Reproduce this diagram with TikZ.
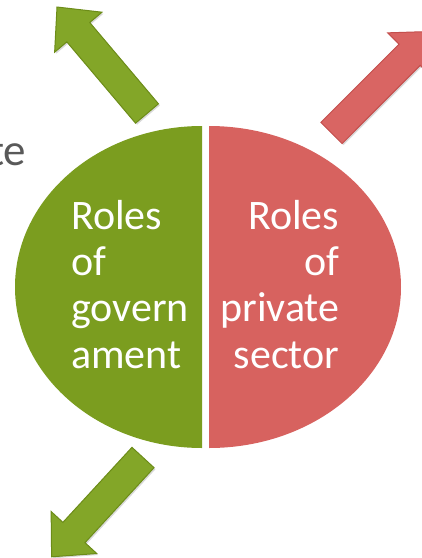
\documentclass[tikz,border=0pt]{standalone}
\usepackage{fontspec}
\setmainfont{Carlito}
\usetikzlibrary{calc,shadows}
\definecolor{govgreen}{HTML}{7B9D1F}
\definecolor{privred}{HTML}{D7625F}
\definecolor{garrowfill}{HTML}{83A628}
\definecolor{garrowline}{HTML}{6C8C18}
\definecolor{rarrowfill}{HTML}{D96563}
\definecolor{rarrowline}{HTML}{C44F4D}
\definecolor{slidegray}{HTML}{595959}
\newcommand\blockarrow[3]{%
  \coordinate (bh) at ($(#2)!33pt!(#1)$);
  \filldraw[#3] ($(#1)!15pt!90:(#2)$) -- ($(bh)!15pt!90:(#2)$) -- ($(bh)!31pt!90:(#2)$) -- (#2)
    -- ($(bh)!31pt!-90:(#2)$) -- ($(bh)!15pt!-90:(#2)$) -- ($(#1)!15pt!-90:(#2)$) -- cycle;}
\tikzset{
  garrow/.style={fill=garrowfill, draw=garrowline, line width=1pt, line join=miter,
    drop shadow={opacity=0.3, shadow xshift=1.5pt, shadow yshift=-1.5pt}},
  rarrow/.style={fill=rarrowfill, draw=rarrowline, line width=1pt, line join=miter,
    drop shadow={opacity=0.3, shadow xshift=1.5pt, shadow yshift=-1.5pt}},
  rolestext/.style={inner sep=0pt, text=white, font=\fontsize{42}{46}\selectfont},
}
\begin{document}
\begin{tikzpicture}[x=1pt,y=-1pt]
\useasboundingbox (0,0) rectangle (422,558);
\clip (0,0) rectangle (422,558);
% cut-off slide text
\node[inner sep=0pt, anchor=base east, text=slidegray, font=\fontsize{45}{50}\selectfont] (te) at (26.5,165) {te};
% halves
\fill[govgreen] (202,126) arc[start angle=90, end angle=270, x radius=187pt, y radius=161pt] -- cycle;
\fill[privred] (209,126) arc[start angle=90, end angle=-90, x radius=192pt, y radius=161pt] -- cycle;
% arrows
\coordinate (gaS) at (147,113.5); \coordinate (gaT) at (57,7);
\blockarrow{gaS}{gaT}{garrow}
\coordinate (raS) at (331.5,133); \coordinate (raT) at (433,31.4);
\blockarrow{raS}{raT}{rarrow}
\coordinate (gbS) at (143,457.5); \coordinate (gbT) at (51.6,556.8);
\blockarrow{gbS}{gbT}{garrow}
% texts
\node[rolestext, anchor=base west] (g1) at (71,229.3) {Roles};
\node[rolestext, anchor=base west] (g2) at (71,275.6) {of};
\node[rolestext, anchor=base west] (g3) at (71,321.9) {govern};
\node[rolestext, anchor=base west] (g4) at (71,368.2) {ament};
\node[rolestext, anchor=base east] (r1) at (339.5,229.3) {Roles};
\node[rolestext, anchor=base east] (r2) at (339.5,275.6) {of};
\node[rolestext, anchor=base east] (r3) at (339.5,321.9) {private};
\node[rolestext, anchor=base east] (r4) at (339.5,368.2) {sector};
\end{tikzpicture}
\end{document}
